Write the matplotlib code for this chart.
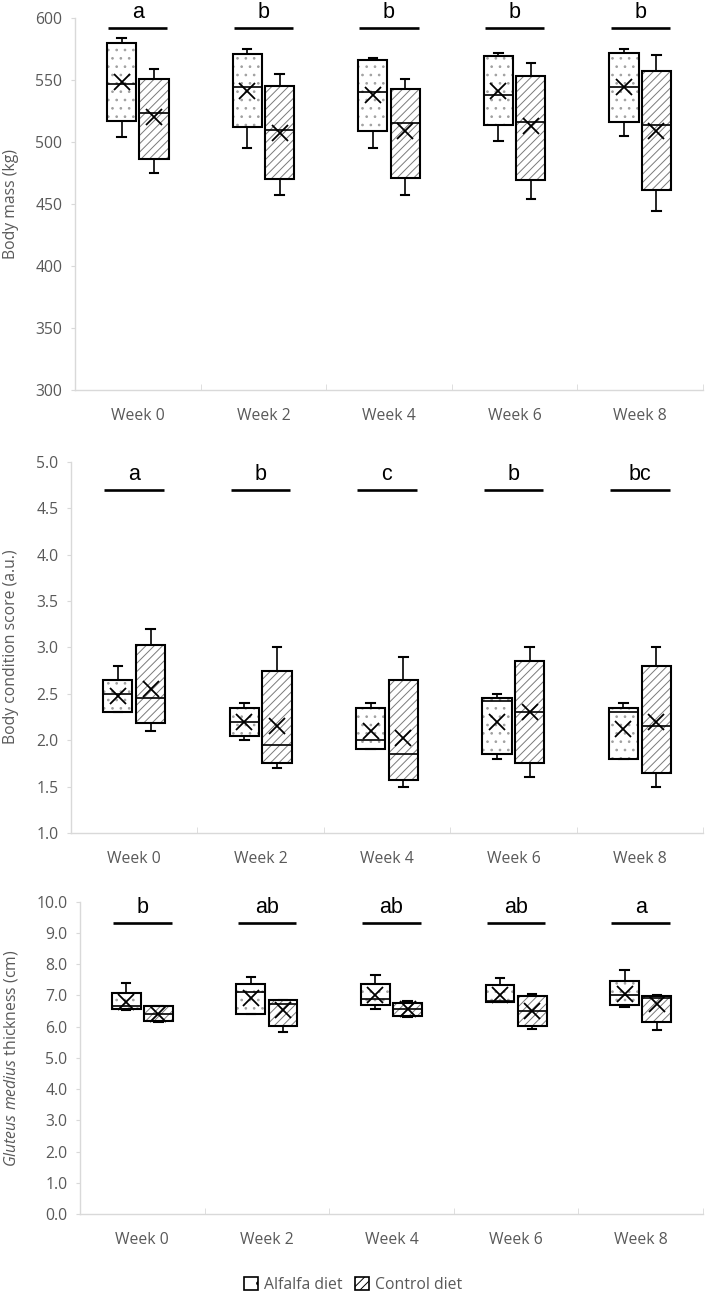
import matplotlib
matplotlib.use("Agg")
import matplotlib.pyplot as plt
from matplotlib.patches import Patch
import matplotlib.transforms as mtransforms

weeks = ["Week 0", "Week 2", "Week 4", "Week 6", "Week 8"]

# each entry: (lower whisker, Q1, median, Q3, upper whisker, mean)
bm_alfalfa = [(504, 517, 547, 580, 584, 548), (495, 512, 544, 571, 575, 541),
              (495, 509, 540, 566, 568, 538), (501, 514, 538, 569, 572, 541),
              (505, 516, 544, 572, 575, 544)]
bm_control = [(475, 486, 523, 551, 559, 520), (457, 470, 510, 545, 555, 507),
              (457, 471, 515, 543, 551, 509), (454, 469, 516, 553, 564, 513),
              (444, 461, 514, 557, 570, 509)]
bm_letters = ["a", "b", "b", "b", "b"]

bcs_alfalfa = [(2.3, 2.3, 2.5, 2.65, 2.8, 2.48), (2.0, 2.05, 2.2, 2.35, 2.4, 2.2),
               (1.9, 1.9, 2.0, 2.35, 2.4, 2.1), (1.8, 1.85, 2.42, 2.45, 2.5, 2.2),
               (1.8, 1.8, 2.3, 2.35, 2.4, 2.12)]
bcs_control = [(2.1, 2.18, 2.45, 3.03, 3.2, 2.55), (1.7, 1.75, 1.95, 2.75, 3.0, 2.15),
               (1.5, 1.57, 1.85, 2.65, 2.9, 2.02), (1.6, 1.75, 2.3, 2.85, 3.0, 2.3),
               (1.5, 1.65, 2.15, 2.8, 3.0, 2.2)]
bcs_letters = ["a", "b", "c", "b", "bc"]

gm_alfalfa = [(6.52, 6.58, 6.65, 7.08, 7.4, 6.8), (6.4, 6.42, 7.1, 7.35, 7.58, 6.93),
              (6.56, 6.7, 6.9, 7.35, 7.65, 7.02), (6.78, 6.8, 6.82, 7.33, 7.55, 7.02),
              (6.64, 6.7, 7.0, 7.47, 7.82, 7.05)]
gm_control = [(6.16, 6.19, 6.4, 6.65, 6.67, 6.42), (5.82, 6.03, 6.72, 6.85, 6.85, 6.53),
              (6.3, 6.35, 6.56, 6.77, 6.82, 6.56), (5.91, 6.03, 6.5, 6.97, 7.03, 6.5),
              (5.9, 6.15, 6.93, 6.98, 7.02, 6.72)]
gm_letters = ["b", "ab", "ab", "ab", "a"]

series_labels = ["Alfalfa diet", "Control diet"]

plt.rcParams["font.family"] = ["Open Sans", "DejaVu Sans"]
plt.rcParams["mathtext.fontset"] = "custom"
plt.rcParams["mathtext.rm"] = "Open Sans"
plt.rcParams["mathtext.it"] = "Open Sans:italic"
plt.rcParams["hatch.linewidth"] = 0.7

GRAY_AX = "#d9d9d9"
GRAY_TXT = "#595959"
W = 0.231
OFF = 0.129
CAPW = 0.068
FS = 11.3

fig = plt.figure(figsize=(7.06, 12.93), dpi=100)
FW, FH = 706, 1293


def make_ax(l, t, r, b):
    return fig.add_axes([l / FW, 1 - b / FH, (r - l) / FW, (b - t) / FH])


ax1 = make_ax(75, 18, 703, 390)
ax2 = make_ax(71, 461.7, 703, 833)
ax3 = make_ax(80, 901.7, 703, 1214)


def draw_panel(ax, alf, ctl, letters, bar_frac):
    n = len(weeks)
    for data, off, hatch, hc in [(alf, -OFF, "..", "#a0a0a0"), (ctl, OFF, "////", "#7a7a7a")]:
        stats = [dict(whislo=d[0], q1=d[1], med=d[2], q3=d[3], whishi=d[4], mean=d[5])
                 for d in data]
        pos = [i + off for i in range(n)]
        ax.bxp(stats, positions=pos, widths=W, patch_artist=True, showcaps=False,
               showfliers=False, showmeans=False,
               boxprops=dict(facecolor="white", edgecolor=hc, hatch=hatch, linewidth=0),
               whiskerprops=dict(linewidth=0), medianprops=dict(linewidth=0),
               manage_ticks=False, zorder=2)
        ax.bxp(stats, positions=pos, widths=W, patch_artist=True, showcaps=True,
               capwidths=CAPW, showfliers=False, showmeans=True,
               meanprops=dict(marker="x", markersize=11, markeredgecolor="black",
                              markeredgewidth=1.3, linestyle="none"),
               boxprops=dict(facecolor="none", edgecolor="black", linewidth=1.5),
               whiskerprops=dict(color="black", linewidth=1.2),
               capprops=dict(color="black", linewidth=1.5),
               medianprops=dict(color="black", linewidth=1.2),
               manage_ticks=False, zorder=3)
    trans = mtransforms.blended_transform_factory(ax.transData, ax.transAxes)
    for i, lab in enumerate(letters):
        ax.plot([i - 0.235, i + 0.235], [bar_frac, bar_frac], color="black", lw=1.9,
                transform=trans, clip_on=False, solid_capstyle="butt")
        ax.annotate(lab, xy=(i, bar_frac), xycoords=trans, xytext=(0, 7),
                    textcoords="offset points", ha="center", va="baseline",
                    fontsize=15.5, family="Liberation Sans", color="black")


def style_axis(ax, ylim, yticks, fmt):
    ax.set_xlim(-0.5, 4.5)
    ax.set_ylim(*ylim)
    for s in ["top", "right"]:
        ax.spines[s].set_visible(False)
    for s in ["left", "bottom"]:
        ax.spines[s].set_color(GRAY_AX)
        ax.spines[s].set_linewidth(1.0)
    ax.set_xticks(range(len(weeks)))
    ax.set_xticklabels(weeks)
    ax.set_xticks([0.5, 1.5, 2.5, 3.5, 4.5], minor=True)
    ax.tick_params(axis="x", which="major", length=0, pad=13, labelsize=FS,
                   labelcolor=GRAY_TXT)
    ax.tick_params(axis="x", which="minor", direction="in", length=4, color=GRAY_AX)
    ax.set_yticks(yticks)
    ax.set_yticklabels([fmt.format(v) for v in yticks])
    ax.tick_params(axis="y", length=3, color=GRAY_AX, labelcolor=GRAY_TXT,
                   labelsize=FS, pad=6)
    ax.patch.set_alpha(0)


draw_panel(ax1, bm_alfalfa, bm_control, bm_letters, 0.973)
style_axis(ax1, (300, 600), [300, 350, 400, 450, 500, 550, 600], "{:.0f}")

draw_panel(ax2, bcs_alfalfa, bcs_control, bcs_letters, 0.925)
style_axis(ax2, (1.0, 5.0), [1.0, 1.5, 2.0, 2.5, 3.0, 3.5, 4.0, 4.5, 5.0], "{:.1f}")

draw_panel(ax3, gm_alfalfa, gm_control, gm_letters, 0.933)
style_axis(ax3, (0.0, 10.0), [float(v) for v in range(11)], "{:.1f}")

fig.text(11 / FW, 1 - 204 / FH, "Body mass (kg)", rotation=90, ha="center",
         va="center", fontsize=FS, color=GRAY_TXT)
fig.text(11 / FW, 1 - 647 / FH, "Body condition score (a.u.)", rotation=90,
         ha="center", va="center", fontsize=FS, color=GRAY_TXT)
fig.text(11 / FW, 1 - 1058 / FH, r"$\mathit{Gluteus\ medius}$ thickness (cm)",
         rotation=90, ha="center", va="center", fontsize=FS, color=GRAY_TXT)

handles = [Patch(facecolor="white", edgecolor="black", hatch=".", linewidth=1.2),
           Patch(facecolor="white", edgecolor="black", hatch="////", linewidth=1.2)]
fig.legend(handles, series_labels, loc="center", bbox_to_anchor=(0.5, 1 - 1285 / FH),
           ncol=2, frameon=False, handlelength=0.9, handleheight=0.9,
           columnspacing=0.8, handletextpad=0.4, fontsize=FS, labelcolor=GRAY_TXT)

fig.savefig("out.png", dpi=100)
